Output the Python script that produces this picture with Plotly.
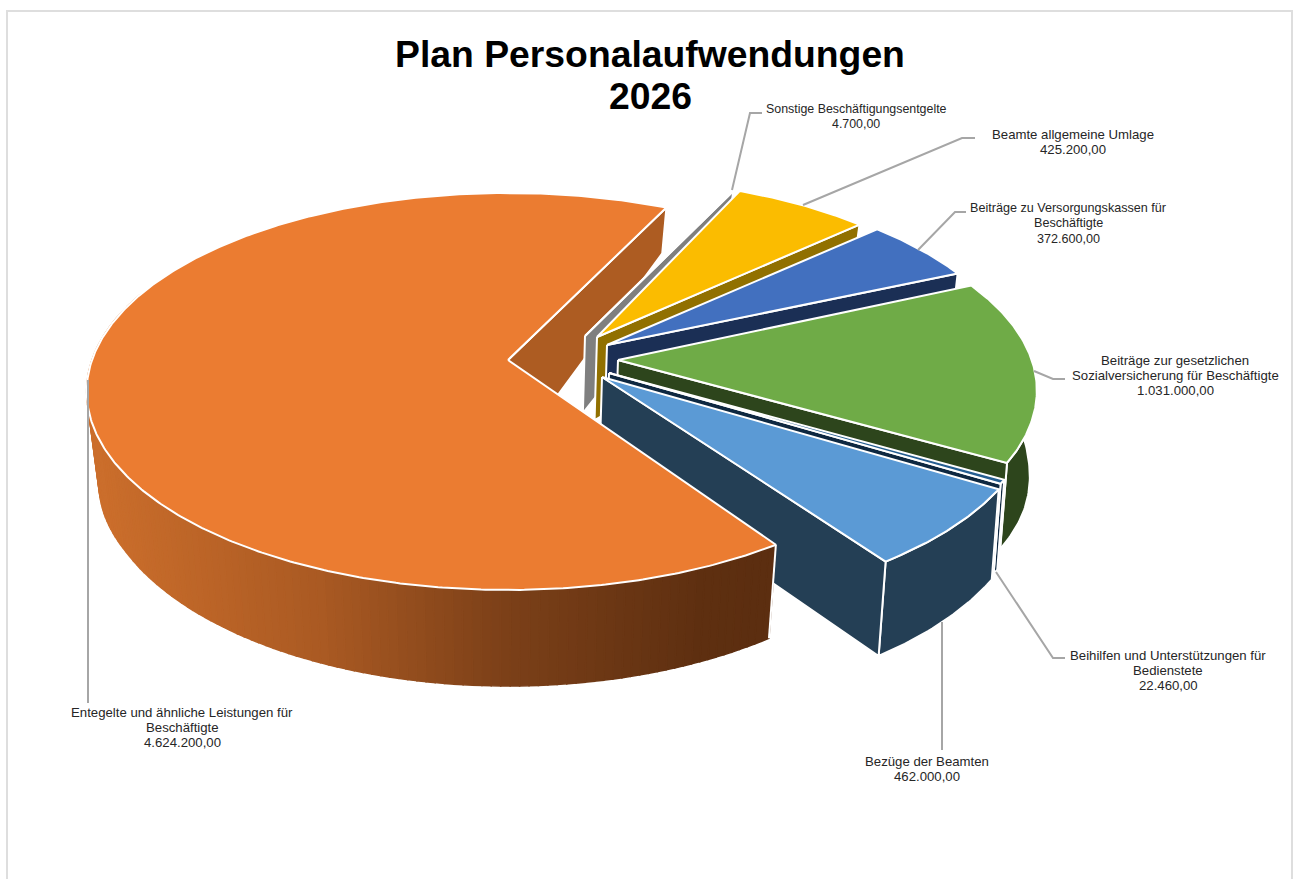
import numpy as np
import plotly.graph_objects as go

# ---------- data ----------
categories = [
    "Entegelte und ähnliche Leistungen für Beschäftigte",
    "Sonstige Beschäftigungsentgelte",
    "Beamte allgemeine Umlage",
    "Beiträge zu Versorgungskassen für Beschäftigte",
    "Beiträge zur gesetzlichen Sozialversicherung für Beschäftigte",
    "Beihilfen und Unterstützungen für Bedienstete",
    "Bezüge der Beamten",
]
values = [4624200.0, 4700.0, 425200.0, 372600.0, 1031000.0, 22460.0, 462000.0]
label_lines = [
    ["Entegelte und ähnliche Leistungen für", "Beschäftigte"],
    ["Sonstige Beschäftigungsentgelte"],
    ["Beamte allgemeine Umlage"],
    ["Beiträge zu Versorgungskassen für", "Beschäftigte"],
    ["Beiträge zur gesetzlichen", "Sozialversicherung für Beschäftigte"],
    ["Beihilfen und Unterstützungen für", "Bedienstete"],
    ["Bezüge der Beamten"],
]

# ---------- styles ----------
top_colors = ["#EB7C31", "#A5A5A5", "#FBBC00", "#4270BF", "#6FAB47", "#255E91", "#5B9AD5"]
wall_colors = ["#AD5C22", "#7F7F7F", "#917000", "#1B2F55", "#2D451C", "#0E2841", "#243F55"]
grad_x = [100, 320, 500, 700, 770]
grad_rgb = [(203, 110, 44), (170, 90, 35), (125, 65, 25), (95, 48, 17), (92, 46, 16)]

# ---------- projection of the tilted, exploded pie ----------
START_ANGLE = 146.0
S, K = 193.5, 0.1587
R_x = [416, 420, 420, 420, 420, 420, 420]
apex = [(508, 360), (585, 336), (597, 337), (607, 345), (618, 360), (609, 373), (602, 377)]
radius_scale = [1.0, 0.94, 0.94, 0.97, 0.985, 1.003, 1.015]
apex_depth = [103, 77, 83, 85, 90, 87, 87]
angle_shift = [(0, 0), (-0.8, -0.8), (-1.8, -1.0), (-1.0, -1.3), (-2.0, -1.0), (-0.5, -0.5), (-0.5, -1.3)]
wall_scale = [1, 1, 1, 1, 0.97, 1, 1]
depth_y = [190, 208, 380, 420, 463, 590, 700]
depth_d = [40, 46, 88, 90, 89, 96, 96]


def top_pt(i, r, deg):
    t = np.radians(deg)
    x, y = r * radius_scale[i] * np.sin(t), r * radius_scale[i] * np.cos(t)
    w = 1 + K * y
    return apex[i][0] + R_x[i] * x / w, apex[i][1] - S * y / w


def shrink(X):
    X = np.asarray(X, dtype=float)
    return np.where(X > 500, X - np.minimum(7.0, 0.025 * (X - 500)), X - 0.029 * (X - 500))


def bottom(X, Y, scale=1.0):
    return shrink(X), np.asarray(Y) + scale * np.interp(Y, depth_y, depth_d)


fig = go.Figure()


def poly(xs, ys, fill, line="white", width=2, name=None):
    fig.add_trace(go.Scatter(
        x=list(xs), y=list(ys), mode="lines", fill="toself", fillcolor=fill,
        line=dict(color=line, width=width), showlegend=False,
        hoverinfo="text" if name else "skip", text=name, name=name or "",
    ))


sweeps = [v / sum(values) * 360 for v in values]
starts = [(START_ANGLE + sum(sweeps[:i])) for i in range(len(values))]
first = [s + d[0] for s, d in zip(starts, angle_shift)]
last = [s + w + d[1] for s, w, d in zip(starts, sweeps, angle_shift)]


def arc(i, a0, a1, n=None):
    n = n or max(3, int(abs(a1 - a0) * 1.5))
    ang = np.linspace(a0, a1, n)
    return top_pt(i, 1.0, ang)


def end_wall(i):
    tx, ty = top_pt(i, 1.0, last[i])
    bx, by = bottom(np.array([tx]), np.array([ty]))
    ax, ay = apex[i]
    abx = float(shrink(np.array([ax]))[0])
    poly([ax, tx, bx[0], abx, ax], [ay, ty, by[0], ay + apex_depth[i], ay], wall_colors[i])


def outer_wall(i, a0, a1):
    X, Y = arc(i, a0, a1)
    bX, bY = bottom(X, Y, wall_scale[i])
    poly(np.r_[X, bX[::-1], X[0]], np.r_[Y, bY[::-1], Y[0]], wall_colors[i])


def top_face(i):
    X, Y = arc(i, first[i], last[i], n=max(3, int(sweeps[i] * 2)))
    ax, ay = apex[i]
    poly(np.r_[ax, X, ax], np.r_[ay, Y, ay], top_colors[i], name=categories[i])


# inner wall of the large slice is furthest back
end_wall(0)

# small slices, back to front
for i in range(1, len(values)):
    outer_wall(i, first[i], last[i])
    end_wall(i)
    top_face(i)

# large slice: shaded outer wall in narrow strips, then edge, then top
A0 = first[0]
A1 = A0 + 145
edges = np.linspace(A0, A1, 130)
for a, b in zip(edges[:-1], edges[1:]):
    X, Y = arc(0, a, b, n=3)
    bX, bY = bottom(X, Y)
    xm = float(np.mean(X))
    col = [np.interp(xm, grad_x, [c[k] for c in grad_rgb]) for k in range(3)]
    col = "rgb(%d,%d,%d)" % tuple(col)
    poly(np.r_[X, bX[::-1], X[0]], np.r_[Y, bY[::-1], Y[0]], col, line=col, width=1.5)
X, Y = arc(0, A0, A1, n=200)
bX, bY = bottom(X, Y)
fig.add_trace(go.Scatter(x=[X[0], bX[0]], y=[Y[0], bY[0]], mode="lines",
                         line=dict(color="white", width=2), showlegend=False, hoverinfo="skip"))
top_face(0)

# ---------- leader lines ----------
leaders = [
    ([88, 88], [380, 703]),
    ([732, 750, 762], [190, 113, 113]),
    ([803, 962, 975], [205, 138, 138]),
    ([918, 955, 966], [250, 212, 212]),
    ([1034, 1053, 1065], [371, 379, 379]),
    ([996, 1053, 1065], [572, 658, 658]),
    ([942, 942], [622, 750]),
]
for lx, ly in leaders:
    fig.add_trace(go.Scatter(x=lx, y=ly, mode="lines", line=dict(color="#A6A6A6", width=2),
                             showlegend=False, hoverinfo="skip"))


# ---------- labels ----------
def de(v):
    return f"{v:,.2f}".replace(",", "X").replace(".", ",").replace("X", ".")


label_x = [182, 856, 1073, 1068, 1175, 1168, 927]
label_first_y = [712, 109, 134, 208, 360, 655, 761]
label_size = [13.2, 12.4, 13.2, 12.6, 13.2, 13.2, 13.2]
LINE_STEP = 15.4
FONT = "Liberation Sans, Arial, sans-serif"
annotations = []
for lines, v, lx, ly, sz in zip(label_lines, values, label_x, label_first_y, label_size):
    for n, txt in enumerate(lines + [de(v)]):
        annotations.append(dict(
            x=lx, y=ly + n * LINE_STEP, xref="x", yref="y", showarrow=False,
            xanchor="center", yanchor="middle", text=txt,
            font=dict(family=FONT, size=sz, color="#262626"),
        ))
annotations.append(dict(
    x=650, y=96, xref="x", yref="y", showarrow=False, xanchor="center", yanchor="middle",
    text="<b>2026</b>", font=dict(family=FONT, size=37.3, color="black"),
))

fig.update_layout(
    width=1293, height=879, margin=dict(l=0, r=0, t=0, b=0),
    paper_bgcolor="white", plot_bgcolor="white", showlegend=False,
    title=dict(text="<b>Plan Personalaufwendungen</b>", x=650 / 1293, xanchor="center",
               y=1 - 54 / 879, yanchor="middle",
               font=dict(family=FONT, size=37.3, color="black")),
    xaxis=dict(range=[0, 1293], visible=False, fixedrange=True),
    yaxis=dict(range=[879, 0], visible=False, fixedrange=True),
    annotations=annotations,
    shapes=[dict(type="rect", xref="x", yref="y", x0=7, y0=11, x1=1292, y1=900,
                 line=dict(color="#DEDEDE", width=2), layer="below")],
)

fig.write_html("out.html", config={"displayModeBar": False},
               post_script="document.body.style.margin='0';document.documentElement.style.overflow='hidden';")
